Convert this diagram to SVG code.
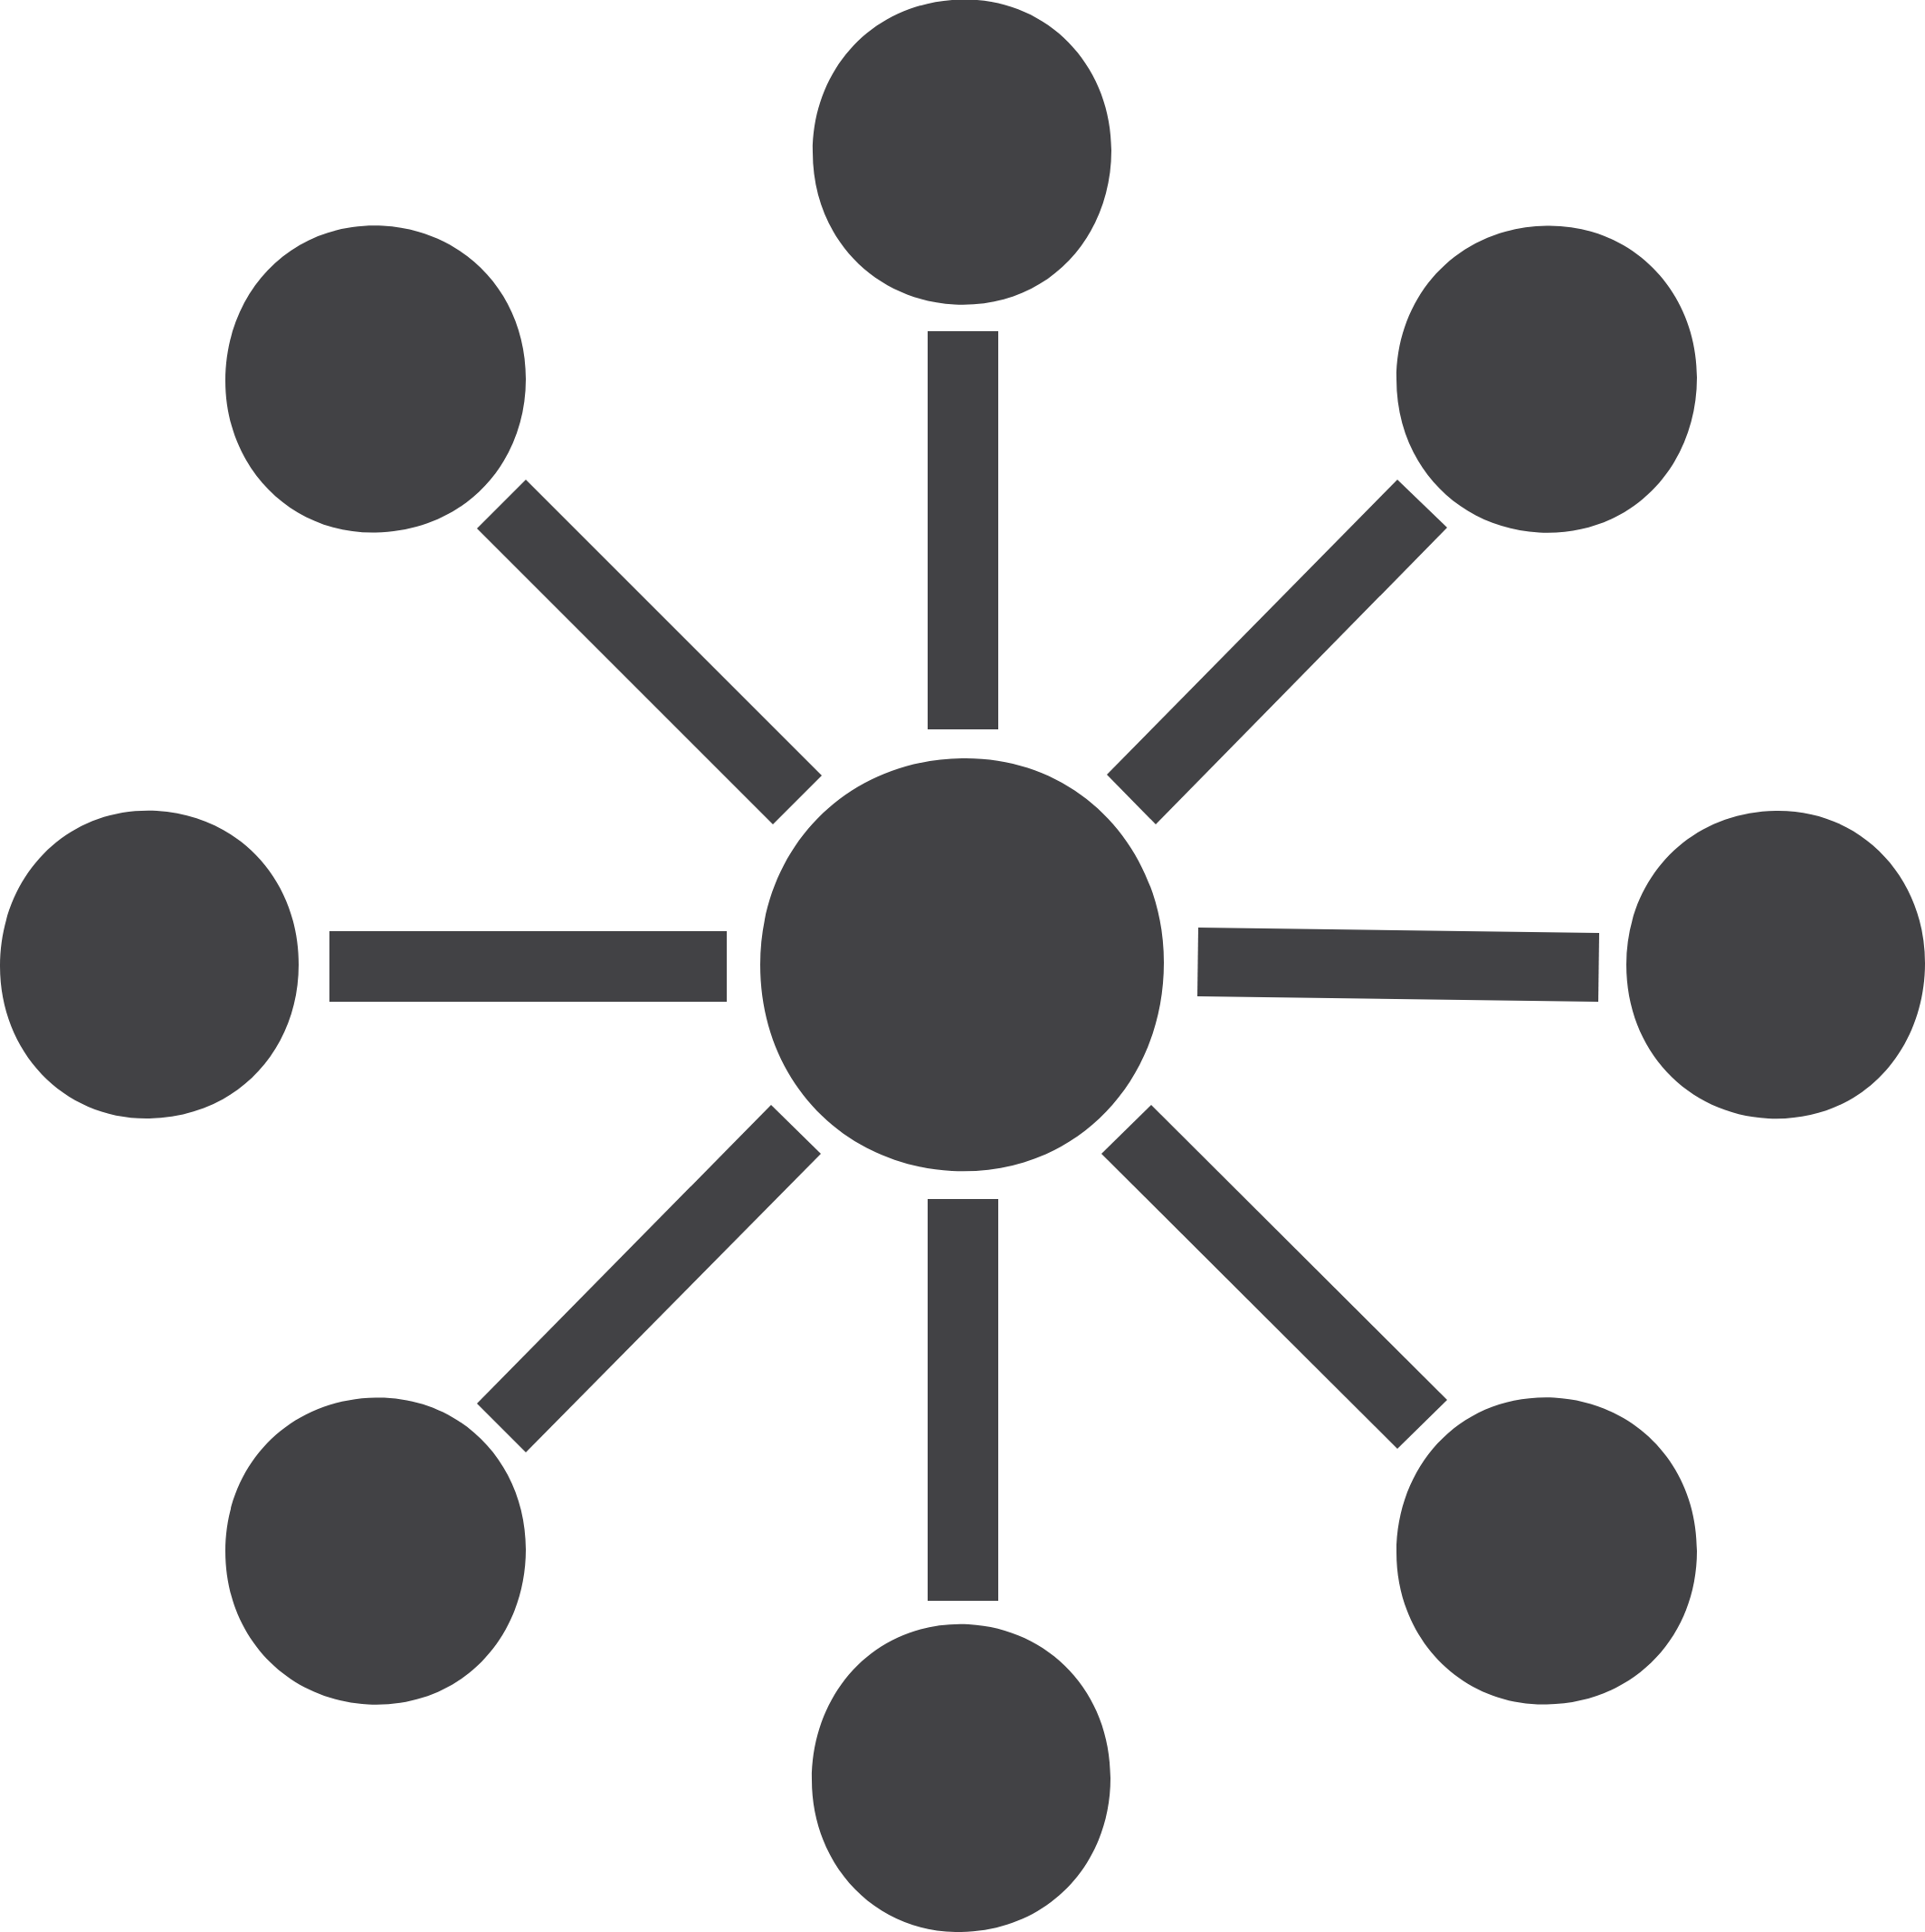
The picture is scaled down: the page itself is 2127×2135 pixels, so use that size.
<svg xmlns="http://www.w3.org/2000/svg" width="2127" height="2135" viewBox="0 0 2127 2135">
<style>
.n{fill:#424245}
.c{fill:#424245}
</style>
<defs>
<path id="blob" d="M0,-100 C57,-101 100,-57 100,-1 C100,56 57,103 -5,100 C-59,97 -100,56 -100,0 C-100,-55 -59,-99 0,-100Z"/>
</defs>
<rect width="2127" height="2135" fill="#ffffff"/>
<g id="connectors">
<rect class="c" x="1025" y="366" width="78" height="440"/>
<rect class="c" x="1025" y="1325" width="78" height="444"/>
<rect class="c" x="364" y="1029" width="439" height="78"/>
<polygon class="c" points="1324,1025 1767,1031 1766,1107 1323,1101"/>
<polygon class="c" points="527,584 581,530 908,857 854,911"/>
<polygon class="c" points="1223,856 1544,530 1599,583 1277,911"/>
<polygon class="c" points="527,1551 852,1221 907,1275 581,1605"/>
<polygon class="c" points="1217,1275 1272,1221 1599,1547 1544,1601"/>
</g>
<g id="center"><use href="#blob" class="n" transform="translate(1063,1066) scale(2.23,2.28)"/></g>
<g id="top"><use href="#blob" class="n" transform="translate(1063,168) scale(1.65,1.685)"/></g>
<g id="top-left"><use href="#blob" class="n" transform="translate(415,419) scale(-1.66,-1.695)"/></g>
<g id="top-right"><use href="#blob" class="n" transform="translate(1709,419) scale(1.66,1.695)"/></g>
<g id="left"><use href="#blob" class="n" transform="translate(165,1066) scale(-1.65,-1.7)"/></g>
<g id="right"><use href="#blob" class="n" transform="translate(1962,1066) scale(1.65,1.7)"/></g>
<g id="bottom-left"><use href="#blob" class="n" transform="translate(415,1714) scale(1.66,1.695)"/></g>
<g id="bottom"><use href="#blob" class="n" transform="translate(1062,1965) scale(-1.65,-1.7)"/></g>
<g id="bottom-right"><use href="#blob" class="n" transform="translate(1709,1714) scale(-1.66,-1.695)"/></g>
</svg>
